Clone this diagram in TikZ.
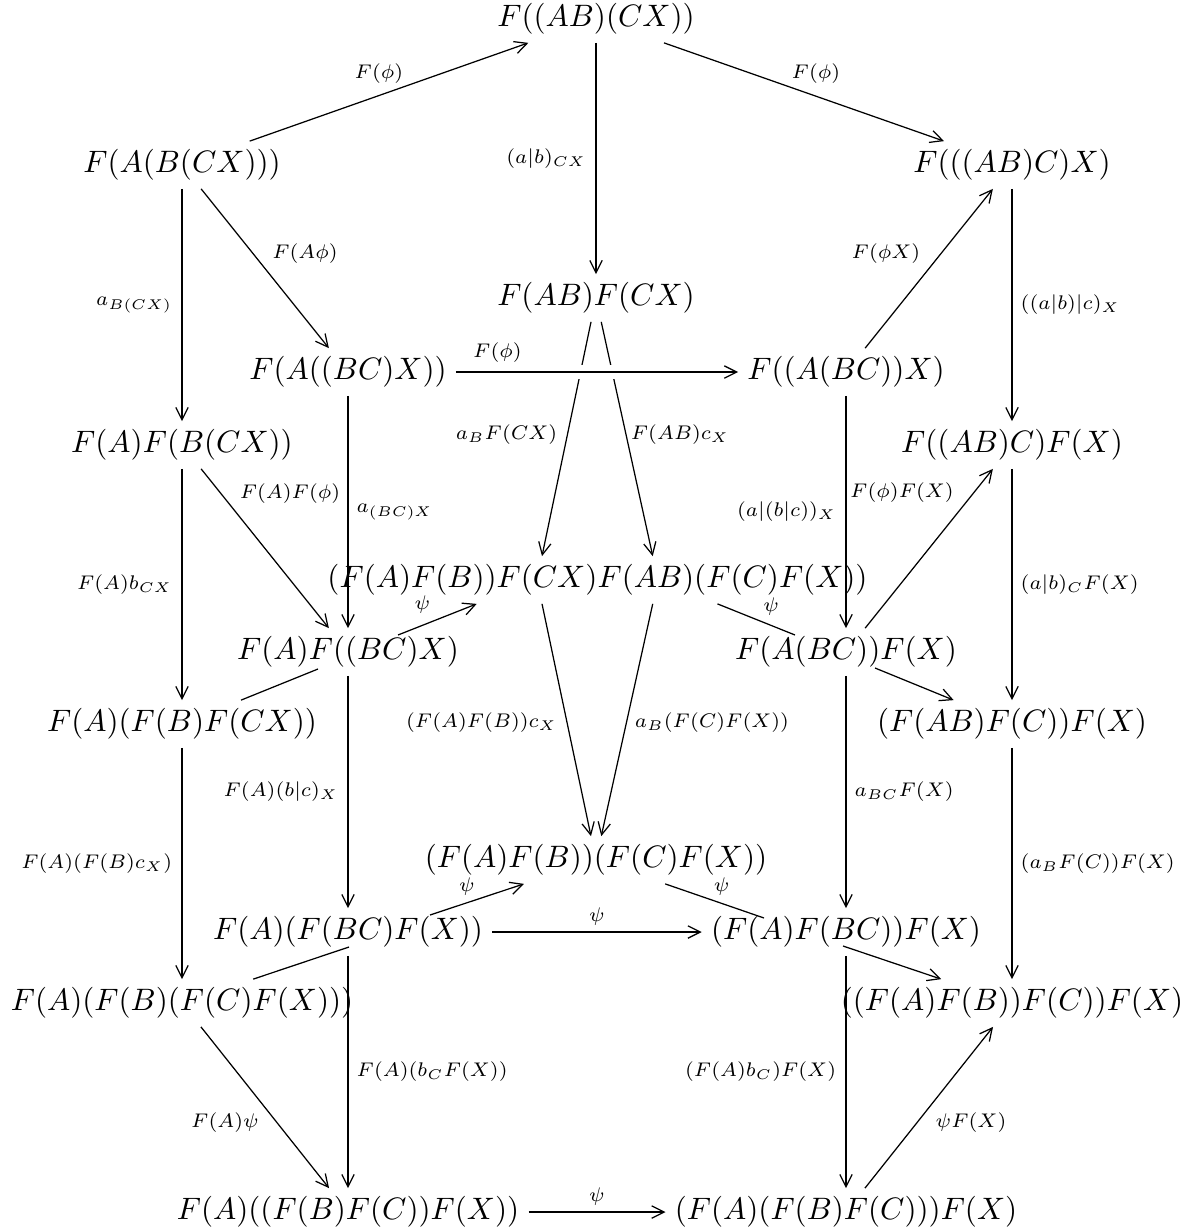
\documentclass[tikz,border=0pt]{standalone}
\usepackage{graphicx}
\usetikzlibrary{arrows.meta,calc}
\newcommand{\lb}[1]{\scalebox{0.91}{$#1$}}
\begin{document}
\begin{tikzpicture}[x=0.3226pt,y=-0.3226pt,
  ob/.style={inner xsep=3pt,inner ysep=2.7pt,outer sep=0pt},
  ar/.style={-{Straight Barb[length=4pt,width=4pt]},line width=0.4pt},
  ln/.style={line width=0.4pt},
  lab/.style={font=\scriptsize,inner sep=0pt,anchor=center},
  labL/.style={font=\scriptsize,inner sep=3pt,anchor=east},
  labR/.style={font=\scriptsize,inner sep=2.6pt,anchor=west}]
\useasboundingbox (0,0) rectangle (1192,1232);
% objects
\node[ob] (n1) at (596,19) {$F((AB)(CX))$};
\node[ob] (n2) at (182,165) {$F(A(B(CX)))$};
\node[ob] (n3) at (1012,165) {$F(((AB)C)X)$};
\node[ob] (n4) at (596,298) {$F(AB)F(CX)$};
\node[ob] (n5) at (348,372) {$F(A((BC)X))$};
\node[ob] (n6) at (846,372) {$F((A(BC))X)$};
\node[ob] (n7) at (182,445) {$F(A)F(B(CX))$};
\node[ob] (n8) at (1012,445) {$F((AB)C)F(X)$};
\node[ob] (n9) at (537,580) {\makebox[39pt][r]{$(F(A)F(B))F(CX)$}};
\node[ob] (n10) at (658,580) {\makebox[39pt][l]{$F(AB)(F(C)F(X))$}};
\node[ob] (n11) at (348,652) {$F(A)F((BC)X)$};
\node[ob] (n12) at (846,652) {$F(A(BC))F(X)$};
\node[ob] (n13) at (182,724) {$F(A)(F(B)F(CX))$};
\node[ob] (n14) at (1012,724) {$(F(AB)F(C))F(X)$};
\node[ob] (n15) at (596,860) {$(F(A)F(B))(F(C)F(X))$};
\node[ob] (n16) at (348,932) {$F(A)(F(BC)F(X))$};
\node[ob] (n17) at (846,932) {$(F(A)F(BC))F(X)$};
\node[ob] (n18) at (182,1003) {$F(A)(F(B)(F(C)F(X)))$};
\node[ob] (n19) at (1012,1003) {$((F(A)F(B))F(C))F(X)$};
\node[ob] (n20) at (348,1212) {$F(A)((F(B)F(C))F(X))$};
\node[ob] (n21) at (846,1212) {$(F(A)(F(B)F(C)))F(X)$};
% arrows
\draw[ar] (n2) -- (n1) node[lab,pos=.5,shift={(-10,-18)}] {\lb{F(\phi)}};
\draw[ar] (n1) -- (n3) node[lab,pos=.5,shift={(12,-18)}] {\lb{F(\phi)}};
\draw[ar] (n1) -- (n4) node[labL,pos=.5] {\lb{(a|b)_{CX}}};
\draw[ar] (n2) -- (n7) node[labL,pos=.5] {\lb{a_{B(CX)}}};
\draw[ar] (n2) -- (n5) node[lab,pos=.5,shift={(40,-15)}] {\lb{F(A\phi)}};
\draw[ar] (n3) -- (n8) node[labR,pos=.5] {\lb{((a|b)|c)_X}};
\draw[ar] (n6) -- (n3) node[lab,pos=.5,shift={(-43,-15)}] {\lb{F(\phi X)}};
\draw[ar] (n4) -- (n9) node[lab,pos=.5,shift={(-60,-4)}] {\lb{a_BF(CX)}};
\draw[ar] (n4) -- (n10) node[lab,pos=.5,shift={(53,-4)}] {\lb{F(AB)c_X}};
\draw[white,line width=4.8pt] ($(n5.east)!.35!(n6.west)$) -- ($(n5.east)!.65!(n6.west)$);
\draw[ar] (n5) -- (n6) node[lab,pos=.147,shift={(0,-19)}] {\lb{F(\phi)}};
\draw[ar] (n5) -- (n11) node[labR,pos=.5] {\lb{a_{(BC)X}}};
\draw[ar] (n7) -- (n11) node[lab,pos=.5,shift={(25,-55)}] {\lb{F(A)F(\phi)}};
\draw[ar] (n7) -- (n13) node[labL,pos=.5] {\lb{F(A)b_{CX}}};
\draw[ar] (n6) -- (n12) node[labL,pos=.5] {\lb{(a|(b|c))_X}};
\draw[ar] (n12) -- (n8) node[lab,pos=.5,shift={(-27,-56)}] {\lb{F(\phi)F(X)}};
\draw[ar] (n8) -- (n14) node[labR,pos=.5] {\lb{(a|b)_CF(X)}};
\draw[ar] ([shift={(50,-17)}]n11.center) -- (n9) node[lab,pos=.5,shift={(-15,-15)}] {\lb{\psi}};
\draw[ln] (n10) -- ([shift={(-51,-17)}]n12.center) node[lab,pos=.5,shift={(15,-13)}] {\lb{\psi}};
\draw[ar] (n9) -- (n15) node[lab,pos=.5,shift={(-85,3)}] {\lb{(F(A)F(B))c_X}};
\draw[ar] (n10) -- (n15) node[lab,pos=.5,shift={(85,3)}] {\lb{a_B(F(C)F(X))}};
\draw[ar] (n11) -- (n16) node[labL,pos=.5] {\lb{F(A)(b|c)_X}};
\draw[ln] ([shift={(-30,17)}]n11.center) -- (n13);
\draw[ar] ([shift={(29,16)}]n12.center) -- (n14);
\draw[ar] (n12) -- (n17) node[labR,pos=.5] {\lb{a_{BC}F(X)}};
\draw[ar] (n14) -- (n19) node[labR,pos=.5] {\lb{(a_BF(C))F(X)}};
\draw[ar] (n13) -- (n18) node[labL,pos=.5] {\lb{F(A)(F(B)c_X)}};
\draw[ar] ([shift={(82,-17)}]n16.center) -- (n15) node[lab,pos=.5,shift={(-10,-13)}] {\lb{\psi}};
\draw[ln] (n15) -- ([shift={(-82,-14)}]n17.center) node[lab,pos=.5,shift={(7,-14)}] {\lb{\psi}};
\draw[ar] (n16) -- (n17) node[lab,pos=.5,shift={(0,-15)}] {\lb{\psi}};
\draw[ln] ([shift={(1,15)}]n16.center) -- (n18);
\draw[ar] ([shift={(-3,14)}]n17.center) -- (n19);
\draw[ar] (n18) -- (n20) node[lab,pos=.5,shift={(-40,15)}] {\lb{F(A)\psi}};
\draw[ar] (n16) -- (n20) node[labR,pos=.5] {\lb{F(A)(b_CF(X))}};
\draw[ar] (n17) -- (n21) node[labL,pos=.5] {\lb{(F(A)b_C)F(X)}};
\draw[ar] (n21) -- (n19) node[lab,pos=.5,shift={(42,15)}] {\lb{\psi F(X)}};
\draw[ar] (n20) -- (n21) node[lab,pos=.5,shift={(0,-15)}] {\lb{\psi}};
\end{tikzpicture}
\end{document}
